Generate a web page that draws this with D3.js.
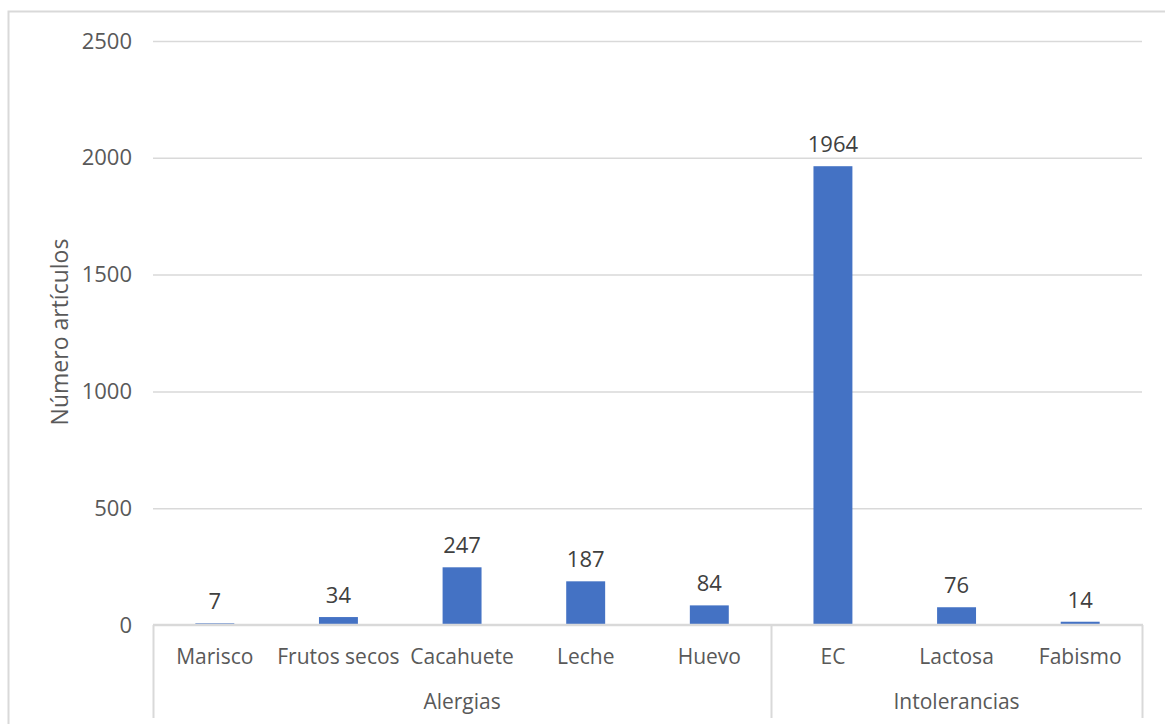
<!DOCTYPE html>
<html>
<head>
<meta charset="utf-8">
<script src="https://cdn.jsdelivr.net/npm/d3@7"></script>
<style>
  html, body { margin: 0; padding: 0; background: #fff; }
  svg { display: block; font-family: "Open Sans", "Noto Sans", sans-serif; }
</style>
</head>
<body>
<svg id="chart" width="1165" height="724"></svg>
<script>
// Artículos publicados por tipo de alergia / intolerancia alimentaria
const categories = ["Marisco", "Frutos secos", "Cacahuete", "Leche", "Huevo", "EC", "Lactosa", "Fabismo"];
const groups = ["Alergias", "Alergias", "Alergias", "Alergias", "Alergias", "Intolerancias", "Intolerancias", "Intolerancias"];
const values = [7, 34, 247, 187, 84, 1964, 76, 14];
const yTicks = [0, 500, 1000, 1500, 2000, 2500];
const yTitle = "Número artículos";

const svg = d3.select("#chart");
const plot = { left: 153, right: 1142, top: 41, bottom: 625 };
const gridColor = "#d9d9d9";
const textColor = "#595959";

// outer chart frame (right and bottom edges fall outside the canvas)
svg.append("path")
  .attr("d", "M8.5,724 V11.5 H1165")
  .attr("fill", "none")
  .attr("stroke", gridColor)
  .attr("stroke-width", 2);

const x = d3.scaleBand()
  .domain(categories)
  .range([plot.left, plot.right])
  .paddingInner(0.685)
  .paddingOuter(0.3425);

const y = d3.scaleLinear()
  .domain([0, 2500])
  .range([plot.bottom, plot.top]);

// gridlines + tick labels
const yAxis = d3.axisLeft(y)
  .tickValues(yTicks)
  .tickSize(-(plot.right - plot.left))
  .tickPadding(21)
  .tickFormat(d3.format("d"));

const gy = svg.append("g")
  .attr("transform", `translate(${plot.left},0)`)
  .call(yAxis);
gy.select(".domain").remove();
gy.selectAll(".tick line")
  .attr("stroke", gridColor)
  .attr("stroke-width", 1.5)
  .attr("stroke-opacity", d => d === 0 ? 0 : 1);
gy.selectAll(".tick text")
  .attr("fill", textColor)
  .attr("font-size", 22)
  .attr("font-family", "'Open Sans', sans-serif");

// y-axis title
svg.append("text")
  .attr("transform", "translate(68,332) rotate(-90)")
  .attr("text-anchor", "middle")
  .attr("fill", textColor)
  .attr("font-size", 23)
  .text(yTitle);

// bars
svg.append("g").selectAll("rect")
  .data(values)
  .join("rect")
  .attr("x", (d, i) => x(categories[i]))
  .attr("width", x.bandwidth())
  .attr("y", d => y(d))
  .attr("height", d => y(0) - y(d))
  .attr("fill", "#4472c4");

// value labels
svg.append("g").selectAll("text")
  .data(values)
  .join("text")
  .attr("x", (d, i) => x(categories[i]) + x.bandwidth() / 2)
  .attr("y", d => y(d) - 14)
  .attr("text-anchor", "middle")
  .attr("fill", "#404040")
  .attr("font-size", 22)
  .text(d => d);

// category axis line (drawn over the bar bases)
const axisColor = "#d9d9d9";
svg.append("line")
  .attr("x1", plot.left).attr("x2", plot.right + 1)
  .attr("y1", y(0)).attr("y2", y(0))
  .attr("stroke", axisColor).attr("stroke-width", 2.5);

// category labels
svg.append("g").selectAll("text")
  .data(categories)
  .join("text")
  .attr("x", d => x(d) + x.bandwidth() / 2)
  .attr("y", 664)
  .attr("text-anchor", "middle")
  .attr("fill", textColor)
  .attr("font-size", 21)
  .text(d => d);

// group spans and separators
const groupSpans = d3.groups(categories.map((c, i) => ({ c, g: groups[i] })), d => d.g)
  .map(([g, items]) => {
    const step = x.step();
    const start = x(items[0].c) - x.paddingOuter() * step;
    const end = x(items[items.length - 1].c) + x.bandwidth() + x.paddingOuter() * step;
    return { g, start, end };
  });

const sepX = [plot.left, ...groupSpans.map(s => s.end)];
svg.append("g").selectAll("line")
  .data(sepX)
  .join("line")
  .attr("x1", d => Math.round(d) + 0.5).attr("x2", d => Math.round(d) + 0.5)
  .attr("y1", y(0)).attr("y2", 718)
  .attr("stroke", axisColor).attr("stroke-width", 2);

svg.append("g").selectAll("text")
  .data(groupSpans)
  .join("text")
  .attr("x", d => (d.start + d.end) / 2)
  .attr("y", 709)
  .attr("text-anchor", "middle")
  .attr("fill", textColor)
  .attr("font-size", 21)
  .text(d => d.g);
</script>
</body>
</html>
